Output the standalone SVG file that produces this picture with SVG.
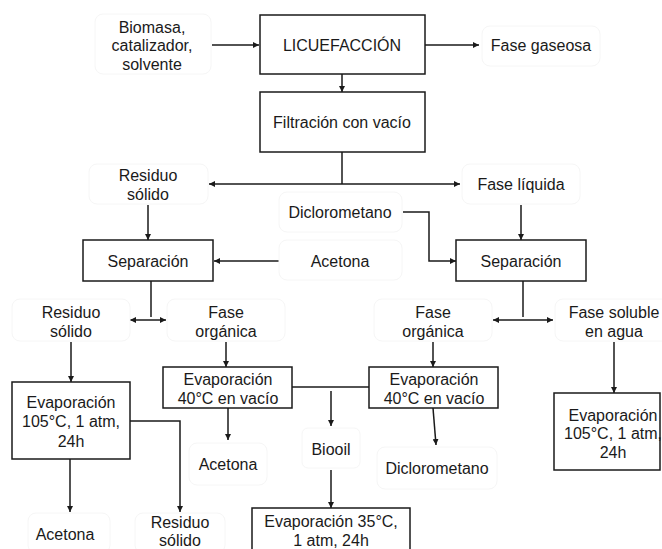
<svg xmlns="http://www.w3.org/2000/svg" width="662" height="549" viewBox="0 0 662 549">
<defs>
<marker id="ah" viewBox="0 0 10 10" refX="10" refY="5" markerWidth="6" markerHeight="6" orient="auto-start-reverse" markerUnits="userSpaceOnUse">
<path d="M0,0 L10,5 L0,10 z" fill="#1a1a1a"/>
</marker>
<style>
text{font-family:"Liberation Sans",Arial,sans-serif;font-size:16px;fill:#1a1a1a;text-anchor:middle}
.box{fill:#fff;stroke:#1a1a1a;stroke-width:1.5}
.lbl{fill:none;stroke:#f6f6f6;stroke-width:1}
.c{fill:none;stroke:#1a1a1a;stroke-width:1.5}
.a{marker-end:url(#ah)}
.b{marker-start:url(#ah);marker-end:url(#ah)}
</style>
</defs>
<rect width="662" height="549" fill="#fff"/>

<g id="connectors">
<line class="c a" x1="212" y1="45" x2="259" y2="45"/>
<line class="c a" x1="425" y1="45" x2="479" y2="45"/>
<line class="c a" x1="342" y1="74" x2="342" y2="92"/>
<line class="c" x1="342" y1="152" x2="342" y2="184"/>
<line class="c b" x1="209" y1="184" x2="460" y2="184"/>
<line class="c a" x1="148" y1="205" x2="148" y2="240"/>
<line class="c a" x1="279" y1="261" x2="214" y2="261"/>
<polyline class="c a" points="403,212 429,212 429,261 456,261"/>
<line class="c a" x1="521" y1="205" x2="521" y2="240"/>
<line class="c" x1="151" y1="281" x2="151" y2="317"/>
<line class="c b" x1="130" y1="320" x2="166" y2="320"/>
<line class="c" x1="523" y1="281" x2="523" y2="317"/>
<line class="c b" x1="493" y1="320" x2="553" y2="320"/>
<line class="c a" x1="71" y1="342" x2="71" y2="382"/>
<line class="c a" x1="226" y1="342" x2="226" y2="367"/>
<line class="c a" x1="433" y1="342" x2="433" y2="367"/>
<line class="c a" x1="614" y1="342" x2="614" y2="393"/>
<polyline class="c a" points="130,421 180,421 180,512"/>
<line class="c a" x1="70" y1="459" x2="70" y2="512"/>
<line class="c a" x1="228" y1="408" x2="228" y2="440"/>
<line class="c" x1="292" y1="387" x2="369" y2="387"/>
<line class="c a" x1="331" y1="391" x2="331" y2="426"/>
<line class="c a" x1="331" y1="470" x2="331" y2="508"/>
<line class="c a" x1="433" y1="408" x2="436" y2="445"/>
</g>

<g id="n-input"><rect class="lbl" x="95" y="14" width="116" height="60" rx="8"/><text x="152" y="33">Biomasa,</text><text x="152" y="51">catalizador,</text><text x="152" y="70">solvente</text></g>
<g id="n-licuefaccion"><rect class="box" x="260" y="15" width="165" height="59"/><text x="342" y="51">LICUEFACCIÓN</text></g>
<g id="n-gaseosa"><rect class="lbl" x="482" y="26" width="118" height="40" rx="8"/><text x="541" y="51">Fase gaseosa</text></g>
<g id="n-filtracion"><rect class="box" x="260" y="92" width="165" height="60"/><text x="342" y="128">Filtración con vacío</text></g>
<g id="n-residuo1"><rect class="lbl" x="89" y="164" width="119" height="40" rx="8"/><text x="148" y="181">Residuo</text><text x="148" y="200">sólido</text></g>
<g id="n-liquida"><rect class="lbl" x="462" y="164" width="118" height="40" rx="8"/><text x="521" y="190">Fase líquida</text></g>
<g id="n-dicloro1"><rect class="lbl" x="279" y="192" width="123" height="40" rx="8"/><text x="340" y="218">Diclorometano</text></g>
<g id="n-acetona1"><rect class="lbl" x="279" y="240" width="123" height="40" rx="8"/><text x="340" y="267">Acetona</text></g>
<g id="n-sep1"><rect class="box" x="83" y="240" width="130" height="41"/><text x="148" y="267">Separación</text></g>
<g id="n-sep2"><rect class="box" x="456" y="240" width="130" height="41"/><text x="521" y="267">Separación</text></g>
<g id="n-residuo2"><rect class="lbl" x="12" y="299" width="118" height="42" rx="8"/><text x="71" y="318">Residuo</text><text x="71" y="337">sólido</text></g>
<g id="n-organica1"><rect class="lbl" x="167" y="299" width="118" height="42" rx="8"/><text x="226" y="318">Fase</text><text x="226" y="337">orgánica</text></g>
<g id="n-organica2"><rect class="lbl" x="374" y="299" width="118" height="42" rx="8"/><text x="433" y="318">Fase</text><text x="433" y="337">orgánica</text></g>
<g id="n-soluble"><rect class="lbl" x="555" y="299" width="118" height="42" rx="8"/><text x="614" y="318">Fase soluble</text><text x="614" y="337">en agua</text></g>
<g id="n-evap1"><rect class="box" x="12" y="382" width="118" height="77"/><text x="71" y="408">Evaporación</text><text x="71" y="427">105°C, 1 atm,</text><text x="71" y="447">24h</text></g>
<g id="n-evap2"><rect class="box" x="163" y="367" width="129" height="41"/><text x="228" y="385">Evaporación</text><text x="228" y="404">40°C en vacío</text></g>
<g id="n-evap3"><rect class="box" x="369" y="367" width="129" height="41"/><text x="434" y="385">Evaporación</text><text x="434" y="404">40°C en vacío</text></g>
<g id="n-evap4"><rect class="box" x="554" y="393" width="106" height="77"/><text x="613" y="421">Evaporación</text><text x="613" y="439">105°C, 1 atm,</text><text x="613" y="458">24h</text></g>
<g id="n-acetona2"><rect class="lbl" x="189" y="443" width="78" height="42" rx="8"/><text x="228" y="470">Acetona</text></g>
<g id="n-biooil"><rect class="lbl" x="302" y="428" width="58" height="40" rx="6"/><text x="331" y="455">Biooil</text></g>
<g id="n-dicloro2"><rect class="lbl" x="377" y="447" width="120" height="42" rx="8"/><text x="437" y="474">Diclorometano</text></g>
<g id="n-acetona3"><rect class="lbl" x="28" y="513" width="82" height="40" rx="8"/><text x="65" y="540">Acetona</text></g>
<g id="n-residuo3"><rect class="lbl" x="135" y="513" width="90" height="40" rx="8"/><text x="180" y="528">Residuo</text><text x="180" y="546">sólido</text></g>
<g id="n-evap5"><rect class="box" x="252" y="508" width="158" height="60"/><text x="331" y="527">Evaporación 35°C,</text><text x="331" y="546">1 atm, 24h</text></g>
</svg>
